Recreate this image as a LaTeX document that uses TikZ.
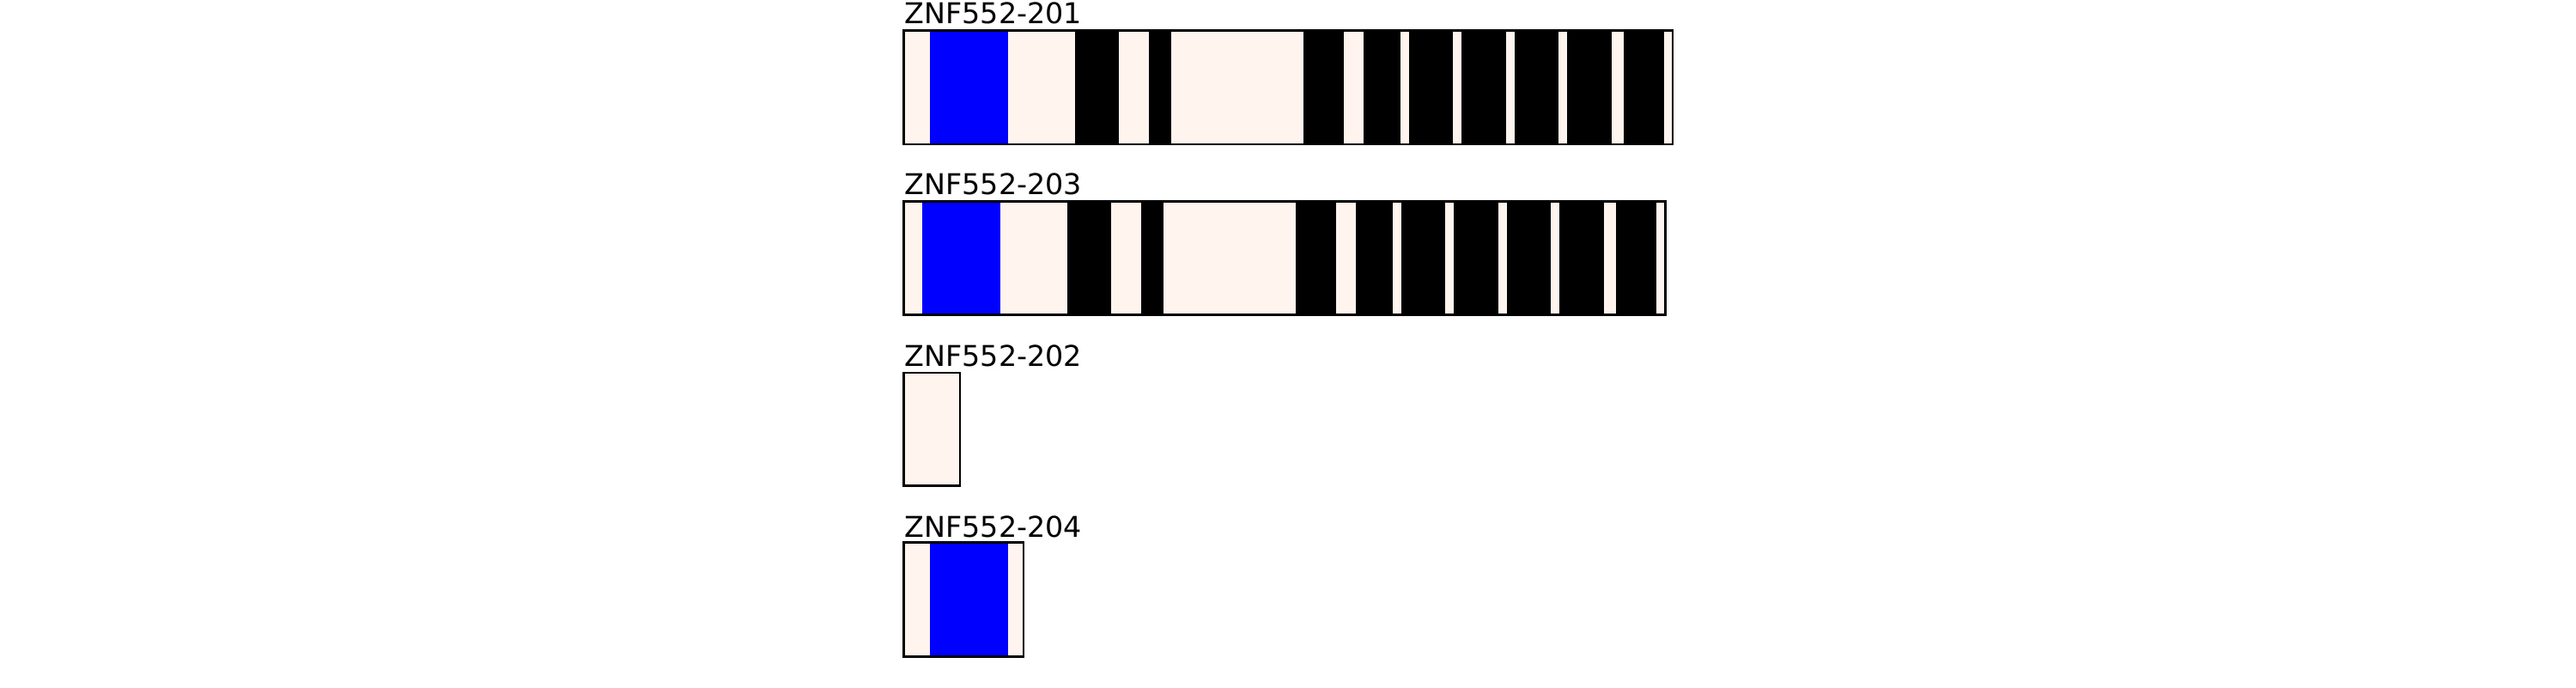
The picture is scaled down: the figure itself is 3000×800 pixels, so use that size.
\documentclass[tikz,border=0pt]{standalone}
\usepackage{fontspec}
\setmainfont{DejaVu Sans}
\definecolor{utrcol}{RGB}{255,245,238}
\definecolor{domblue}{RGB}{0,0,255}

\begin{document}
\begin{tikzpicture}[x=0.24pt,y=-0.24pt]
		\tikzstyle{utr}=[fill=utrcol]
		\tikzstyle{cds}=[fill=black]
		\tikzstyle{dom}=[fill=domblue]
		\tikzstyle{frame}=[draw=black, line width=0.6pt]
		\tikzstyle{txlabel}=[anchor=base west, inner sep=0pt, font=\fontsize{8}{9.5}\selectfont]
		\useasboundingbox (0,0) rectangle (3000,800);
		
		% ZNF552-201
		\node[txlabel] (t201) at (1053,27.7) {ZNF552-201};
		\fill[utr] (1052.7,35.5) rectangle (1948,168);
		\fill[dom] (1083.3,35.5) rectangle (1173.7,168);
		\foreach \a/\b in {1252/1303, 1338.3/1364.3, 1518.3/1564.7, 1588.3/1630.7, 1641/1692, 1702/1754, 1764/1815, 1825/1876.7, 1891/1937.7}
			\fill[cds] (\a,35.5) rectangle (\b,168);
		\draw[frame] (1052.7,35.5) rectangle (1948,168);
		
		% ZNF552-203
		\node[txlabel] (t203) at (1053,226.7) {ZNF552-203};
		\fill[utr] (1052.7,234.7) rectangle (1939.3,366.7);
		\fill[dom] (1074.3,234.7) rectangle (1164.7,366.7);
		\foreach \a/\b in {1243.3/1294, 1329.3/1355.3, 1509.3/1555.7, 1579.3/1622, 1632.3/1683, 1693/1745, 1755.3/1806, 1816/1867.7, 1882/1928.7}
			\fill[cds] (\a,234.7) rectangle (\b,366.7);
		\draw[frame] (1052.7,234.7) rectangle (1939.3,366.7);
		
		% ZNF552-202
		\node[txlabel] (t202) at (1053,426) {ZNF552-202};
		\fill[utr] (1052.7,434) rectangle (1118,565.7);
		\draw[frame] (1052.7,434) rectangle (1118,565.7);
		
		% ZNF552-204
		\node[txlabel] (t204) at (1053,625.3) {ZNF552-204};
		\fill[utr] (1052.7,631.7) rectangle (1192,764.3);
		\fill[dom] (1083.3,631.7) rectangle (1173.7,764.3);
		\draw[frame] (1052.7,631.7) rectangle (1192,764.3);
	\end{tikzpicture}
\end{document}
